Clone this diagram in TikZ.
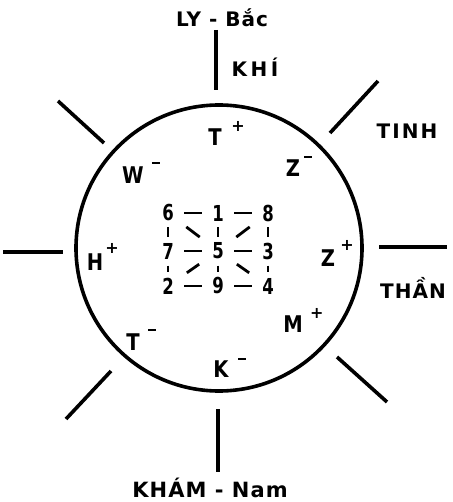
\documentclass[tikz,border=0pt]{standalone}
\usepackage{fontspec}
\setmainfont{DejaVu Sans}
\newfontfamily\lab{DejaVu Sans}[UprightFont={* Bold}, LetterSpace=5]
\newfontfamily\inn{DejaVu Sans}[UprightFont={* Bold}, FakeStretch=0.85]
\newfontfamily\numf{DejaVu Sans}[UprightFont={* Bold}, FakeStretch=0.75]
\newfontfamily\sgnf{DejaVu Sans}[UprightFont={* Bold}]
\newcommand\sgp[2]{\rlap{\smash{\hspace{#1}\raisebox{#2}{\sgnf\fontsize{16}{16}\selectfont +}}}}
\newcommand\sgm[2]{\rlap{\smash{\hspace{#1}\raisebox{#2}{\rule{8pt}{2.8pt}}}}}
\begin{document}
\begin{tikzpicture}[x=1pt,y=-1pt,
  ray/.style={line width=3.6pt},
  lbl/.style={font=\lab\fontsize{20}{20}\selectfont, inner sep=0pt},
  inlbl/.style={font=\inn\fontsize{23}{23}\selectfont, inner sep=0pt},
  num/.style={font=\numf\fontsize{22}{22}\selectfont, inner sep=0pt},
  gl/.style={line width=2.8pt},
  hl/.style={gl, shorten <=16pt, shorten >=16pt},
  vl/.style={gl, shorten <=14.5pt, shorten >=14.5pt},
  dl/.style={gl, shorten <=23pt, shorten >=23pt}]
\useasboundingbox (0,0) rectangle (452,502);
\fill[white] (0,0) rectangle (452,502);
% wheel
\node[circle, draw, line width=3.6pt, minimum size=286pt, inner sep=0pt] (wheel) at (219,248) {};
% rays
\coordinate (t1) at (216,30);  \coordinate (t2) at (216,90);
\coordinate (ul1) at (58,101); \coordinate (ul2) at (104,143);
\coordinate (ur1) at (378,81); \coordinate (ur2) at (330,133);
\coordinate (l1) at (3,252);   \coordinate (l2) at (63,252);
\coordinate (r1) at (379,247); \coordinate (r2) at (447,247);
\coordinate (ll1) at (111,371);\coordinate (ll2) at (66,419);
\coordinate (lr1) at (337,357);\coordinate (lr2) at (387,402);
\coordinate (b1) at (218,409); \coordinate (b2) at (218,472);
\draw[ray] (t1) -- (t2);
\draw[ray] (ul1) -- (ul2);
\draw[ray] (ur1) -- (ur2);
\draw[ray] (l1) -- (l2);
\draw[ray] (r1) -- (r2);
\draw[ray] (ll1) -- (ll2);
\draw[ray] (lr1) -- (lr2);
\draw[ray] (b1) -- (b2);
% outer labels
\node[lbl, anchor=base] (ly) at (222,27) {LY - Bắc};
\node[lbl, anchor=base] (khi) at (255,77) {\addfontfeatures{LetterSpace=18}KHÍ};
\node[lbl, anchor=base] (tinh) at (407,139) {\addfontfeatures{LetterSpace=10}TINH};
\node[lbl, anchor=base] (than) at (413,298) {THẦN};
\node[lbl, anchor=base, font=\lab\fontsize{21}{21}\selectfont] (kham) at (210,497) {KHÁM - Nam};
% inner labels
\node[inlbl] (tp) at (215,137) {T\sgp{9.6pt}{13.7pt}};
\node[inlbl] (wm) at (133,175) {W\sgm{8pt}{19pt}};
\node[inlbl] (zm) at (293,168) {Z\sgm{4pt}{18pt}};
\node[inlbl] (hp) at (95,262) {H\sgp{2.1pt}{16.7pt}};
\node[inlbl] (zp) at (328,258) {Z\sgp{5.2pt}{15.7pt}};
\node[inlbl] (mp) at (293,324) {M\sgp{7.5pt}{13.7pt}};
\node[inlbl] (tm) at (133,342) {T\sgm{8.4pt}{19pt}};
\node[inlbl] (km) at (221,369) {K\sgm{9.5pt}{17pt}};
% magic square
\node[num] (n6) at (168,213) {6};
\node[num] (n1) at (218,213) {1};
\node[num] (n8) at (268,213) {8};
\node[num] (n7) at (168,251) {7};
\node[num] (n5) at (218,251) {5};
\node[num] (n3) at (268,251) {3};
\node[num] (n2) at (168,286) {2};
\node[num] (n9) at (218,286) {9};
\node[num] (n4) at (268,286) {4};
\draw[hl] (n6.center) -- (n1.center);
\draw[hl] (n1.center) -- (n8.center);
\draw[hl] (n7.center) -- (n5.center);
\draw[hl] (n5.center) -- (n3.center);
\draw[hl] (n2.center) -- (n9.center);
\draw[hl] (n9.center) -- (n4.center);
\draw[vl] (n6.center) -- (n7.center);
\draw[vl] (n1.center) -- (n5.center);
\draw[vl] (n8.center) -- (n3.center);
\draw[vl] (n7.center) -- (n2.center);
\draw[vl] (n5.center) -- (n9.center);
\draw[vl] (n3.center) -- (n4.center);
\draw[dl] (n6.center) -- (n5.center);
\draw[dl] (n8.center) -- (n5.center);
\draw[dl] (n2.center) -- (n5.center);
\draw[dl] (n4.center) -- (n5.center);
\end{tikzpicture}
\end{document}
